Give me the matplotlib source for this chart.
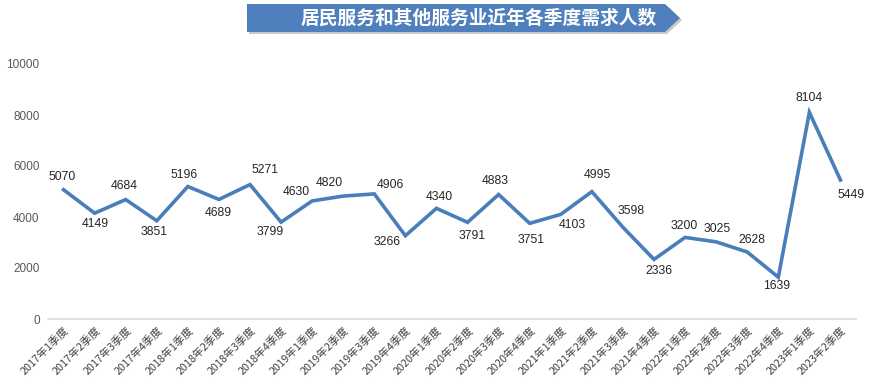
import matplotlib
matplotlib.use("Agg")
from matplotlib import pyplot as plt
from matplotlib.patches import Polygon

plt.rcParams['font.family'] = ['Noto Sans CJK SC', 'DejaVu Sans']

quarters = ["2017年1季度", "2017年2季度", "2017年3季度", "2017年4季度",
            "2018年1季度", "2018年2季度", "2018年3季度", "2018年4季度",
            "2019年1季度", "2019年2季度", "2019年3季度", "2019年4季度",
            "2020年1季度", "2020年2季度", "2020年3季度", "2020年4季度",
            "2021年1季度", "2021年2季度", "2021年3季度", "2021年4季度",
            "2022年1季度", "2022年2季度", "2022年3季度", "2022年4季度",
            "2023年1季度", "2023年2季度"]
demand = [5070, 4149, 4684, 3851, 5196, 4689, 5271, 3799, 4630, 4820,
          4906, 3266, 4340, 3791, 4883, 3751, 4103, 4995, 3598, 2336,
          3200, 3025, 2628, 1639, 8104, 5449]
title = "居民服务和其他服务业近年各季度需求人数"

# label offsets in pixels (dx, dy), dy positive = down
offsets = [(-1, -13), (1, 11), (-1, -14), (-3, 11), (-4, -12), (-1, 14),
           (15, -15), (-11, 10), (-16, -9), (-14, -13), (16, -9), (-18, 6),
           (3, -11), (5, 14), (-3, -13), (1, 17), (12, 11), (6, -17),
           (8, -16), (5, 12), (-1, -11), (1, -13), (5, -12), (-2, 9),
           (0, -14), (11, 15)]

line_color = "#4a7ebb"

fig = plt.figure(figsize=(8.76, 3.91), dpi=100)
ax = fig.add_axes([48 / 876, 1 - 319 / 391, 808 / 876, 255 / 391])

x = list(range(len(demand)))
ax.plot(x, demand, color=line_color, lw=2.6, solid_joinstyle='miter')

for i, v in enumerate(demand):
    dx, dy = offsets[i]
    ax.annotate(str(v), (i, v), xytext=(dx * 0.72, -dy * 0.72),
                textcoords='offset points', ha='center', va='center',
                fontsize=8.8, color="#262626", family=['Liberation Sans', 'DejaVu Sans'])

ax.set_xlim(-0.5, len(demand) - 0.5)
ax.set_ylim(0, 10000)
ax.set_yticks(range(0, 10001, 2000))
ax.set_xticks(x)
ax.set_xticklabels(quarters, rotation=45, ha='right', rotation_mode='anchor',
                   fontsize=7.8, color="#404040")
for lab in ax.get_yticklabels():
    lab.set_fontsize(8.5)
    lab.set_color("#595959")
    lab.set_family(['Liberation Sans', 'DejaVu Sans'])
ax.tick_params(length=0, pad=6)
ax.tick_params(axis='x', pad=4)
for s in ['top', 'right', 'left']:
    ax.spines[s].set_visible(False)
ax.spines['bottom'].set_color("#d9d9d9")
ax.spines['bottom'].set_linewidth(1.2)

# title banner
W, H = 876, 391
pts = [(247, 4), (665, 4), (680, 18), (665, 32), (247, 32)]
shadow = Polygon([((px + 2) / W, 1 - (py + 2) / H) for px, py in pts],
                 closed=True, transform=fig.transFigure, facecolor="#c8c8c8",
                 edgecolor='none', zorder=1)
banner = Polygon([(px / W, 1 - py / H) for px, py in pts], closed=True,
                 transform=fig.transFigure, facecolor="#4f7fbc",
                 edgecolor='none', zorder=2)
fig.patches.append(shadow)
fig.patches.append(banner)
fig.text(479 / W, 1 - 18 / H, title, ha='center', va='center', color='white',
         fontsize=13.5, fontweight='bold', zorder=3)

fig.savefig("out.png", dpi=100)
